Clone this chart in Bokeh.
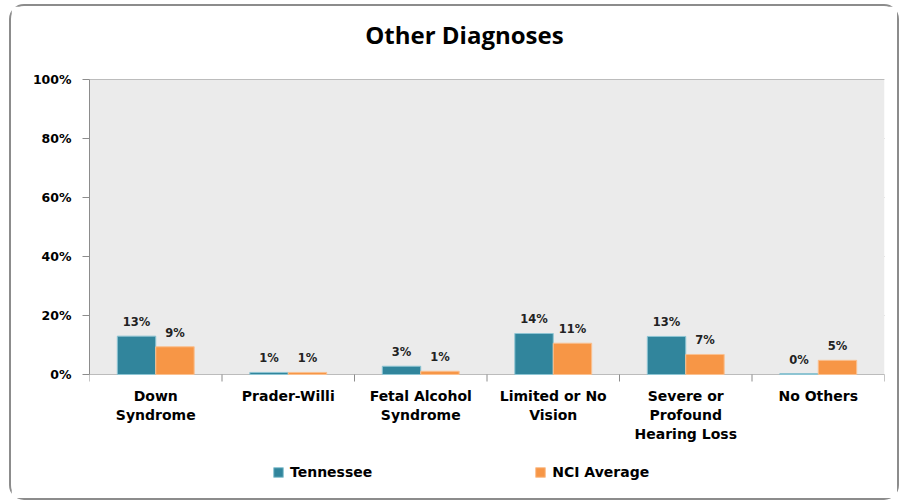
import math
from bokeh.plotting import figure
from bokeh.models import (ColumnDataSource, FixedTicker, Range1d, Legend, LegendItem,
                          LabelSet, Label, BoxAnnotation)
from bokeh.core.properties import value
from bokeh.embed import file_html
from bokeh.resources import INLINE

categories = ["Down\nSyndrome", "Prader-Willi", "Fetal Alcohol\nSyndrome",
              "Limited or No\nVision", "Severe or\nProfound\nHearing Loss", "No Others"]
tennessee = [13.0, 0.7, 2.8, 13.9, 12.9, 0.3]
nci_average = [9.4, 0.7, 1.1, 10.6, 6.8, 4.8]
series_names = ["Tennessee", "NCI Average"]
y_ticks = [0, 20, 40, 60, 80, 100]
title_text = "Other Diagnoses"

TEAL = "#31859C"
ORANGE = "#F79646"
GRID = "#8C8C8C"
FONT = "DejaVu Sans"

# layout geometry (pixels)
PX_PER_UNIT = 2.95           # vertical pixels per percentage point
SPACE_ABOVE_100 = 71         # frame top -> 100% line
SPACE_BELOW_0 = 120          # 0% line -> frame bottom

n = len(categories)
centers = [i + 0.5 for i in range(n)]
boundaries = list(range(n + 1))
bw = 0.29

src_t = ColumnDataSource(dict(x=[c - bw / 2 for c in centers], top=tennessee,
                              lab=[f"{v:.0f}%" for v in tennessee]))
src_n = ColumnDataSource(dict(x=[c + bw / 2 for c in centers], top=nci_average,
                              lab=[f"{v:.0f}%" for v in nci_average]))
src_c = ColumnDataSource(dict(x=centers, y=[0] * n, text=categories))

y_top = 100 + SPACE_ABOVE_100 / PX_PER_UNIT
y_bot = -SPACE_BELOW_0 / PX_PER_UNIT

p = figure(width=890, height=496, output_backend="svg", toolbar_location=None,
           x_range=Range1d(0, n), y_range=Range1d(y_bot, y_top),
           x_axis_location=None,
           min_border_left=78, min_border_right=17, min_border_top=2,
           min_border_bottom=8, background_fill_color="white",
           border_fill_color="white", outline_line_color=None)

p.styles = {"border": "2px solid #8C8C8C", "border-radius": "15px",
            "margin-left": "9px", "margin-top": "4px"}

# plot area background
p.add_layout(BoxAnnotation(bottom=0, top=100, fill_color="#EBEBEB", fill_alpha=1,
                           line_color=None, level="underlay"))

rt = p.vbar(x="x", top="top", width=bw, bottom=0, source=src_t, fill_color=TEAL,
            line_color="#8EC5D3", line_width=1)
rn = p.vbar(x="x", top="top", width=bw, bottom=0, source=src_n, fill_color=ORANGE,
            line_color="#FAC090", line_width=1)

for s in (src_t, src_n):
    p.add_layout(LabelSet(x="x", y="top", text="lab", source=s, y_offset=7,
                          text_align="center", text_baseline="bottom",
                          text_font=value(FONT), text_font_size=value("11.5px"),
                          text_font_style="bold", text_color="#222222"))

# category tick marks at boundaries and category labels
p.ray(x=boundaries, y=[0] * len(boundaries), length=7, length_units="screen",
      angle=-math.pi / 2, line_color=GRID, line_width=1)
p.text(x="x", y="y", text="text", source=src_c, y_offset=13,
       text_align="center", text_baseline="top",
       text_font=value(FONT), text_font_size=value("14px"), text_font_style="bold",
       text_color="black", text_line_height=1.2)

# title
p.add_layout(Label(x=(462.5 - 89) / 132, y=(374 - 34) / PX_PER_UNIT, text=title_text,
                   text_align="center", text_baseline="middle",
                   text_font="Open Sans", text_font_size="24px",
                   text_font_style="bold", text_color="black"))

# y axis
p.yaxis.ticker = FixedTicker(ticks=y_ticks)
p.yaxis.bounds = (0, 100)
p.yaxis.major_label_overrides = {t: f"{t}%" for t in y_ticks}
p.yaxis.major_label_text_font = FONT
p.yaxis.major_label_text_font_size = "12.5px"
p.yaxis.major_label_text_font_style = "bold"
p.yaxis.major_label_text_color = "black"
p.yaxis.axis_line_color = GRID
p.yaxis.major_tick_line_color = GRID
p.yaxis.major_tick_in = 0
p.yaxis.major_tick_out = 7
p.yaxis.minor_tick_line_color = None
p.yaxis.major_label_standoff = 11

p.xgrid.grid_line_color = None
p.ygrid.ticker = FixedTicker(ticks=y_ticks)
p.ygrid.grid_line_color = GRID
p.ygrid.grid_line_width = 1

legend = Legend(items=[LegendItem(label=series_names[0], renderers=[rt]),
                       LegendItem(label=series_names[1], renderers=[rn])],
                orientation="horizontal", location=(183, 14), spacing=162,
                border_line_color=None, background_fill_alpha=0,
                label_text_font=FONT, label_text_font_size="14px",
                label_text_font_style="bold", label_text_color="black",
                glyph_width=12, glyph_height=12, label_standoff=6,
                padding=4, margin=0)
p.add_layout(legend)

open("out.html", "w").write(file_html(p, INLINE))
